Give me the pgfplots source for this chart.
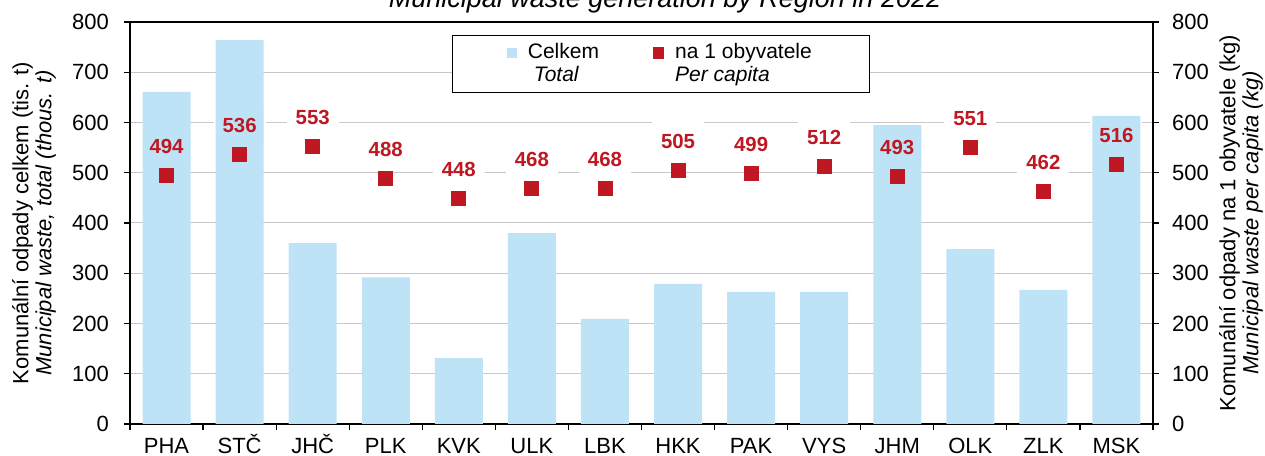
\documentclass[border=0pt]{standalone}
\usepackage{fontspec}
\setmainfont{Liberation Sans}
\usepackage{pgfplots}
\usepackage{pgfplotstable}
\pgfplotsset{compat=1.18}
\definecolor{barblue}{RGB}{190,227,246}
\definecolor{mred}{RGB}{191,24,35}
\definecolor{gridgray}{RGB}{200,200,200}
\pgfdeclareplotmark{lblbg}{\pgfpathrectangle{\pgfpoint{-13pt}{5pt}}{\pgfpoint{26pt}{19pt}}\pgfusepathqfill}

\pgfplotstableread{
x total percap
0 661 494
1 764 536
2 360 553
3 292 488
4 131 448
5 380 468
6 209 468
7 279 505
8 263 499
9 263 512
10 595 493
11 348 551
12 267 462
13 613 516
}\data

\begin{document}
\begin{tikzpicture}
\begin{axis}[name=ax, scale only axis, width=511.5pt, height=201pt,
  clip marker paths=true,
  xmin=-0.5, xmax=13.5, ymin=0, ymax=800,
  xtick={-0.5,0.5,...,13.5}, x tick label as interval,
  xticklabels={PHA,STČ,JHČ,PLK,KVK,ULK,LBK,HKK,PAK,VYS,JHM,OLK,ZLK,MSK},
  ytick={0,100,...,800}, ymajorgrids, grid style={gridgray, line width=0.5pt},
  tick align=outside, xtick pos=bottom, ytick pos=left, major tick length=3pt,
  tick style={black, line width=0.6pt},
  axis line style={line width=0.8pt},
  ticklabel style={font=\fontsize{11}{13}\selectfont},
  yticklabel style={xshift=-4pt},
  xticklabel style={anchor=base, yshift=-12pt},
  /pgf/number format/assume math mode=true,
  every axis y label/.style={at={([xshift=-48pt]axis description cs:0,0.5)}, rotate=90, anchor=center, align=center, font=\fontsize{11}{11.5}\selectfont},
  ylabel={Komunální odpady celkem (tis. t)\\\textit{Municipal waste, total (thous. t)}},
  legend columns=2,
  legend style={at={(0.315,0.968)}, anchor=north west, draw=black, line width=0.6pt,
    inner xsep=27pt, inner ysep=2pt,
    font=\fontsize{10.5}{11.5}\selectfont, cells={align=left},
    /tikz/every odd column/.append style={column sep=3.5pt},
    /tikz/every even column/.append style={column sep=25pt}},
  nodes near coords style={font=\fontsize{10.2}{12}\bfseries},
]
% white label backgrounds (under bars)
\addplot[only marks, mark=lblbg, mark options={fill=white, draw=none}, forget plot]
  table[x=x, y=percap] {\data};
% bars
\addplot[ybar, bar width=24pt, fill=barblue, draw=none,
  legend image code/.code={\fill[barblue] (0pt,3pt) rectangle (5pt,8pt);}]
  table[x=x, y=total] {\data};
\addlegendentry{Celkem\\\hspace{3pt}\textit{Total}}
% per capita markers
\addplot[only marks, mark=square*, mark size=3.5pt, mark options={fill=mred, draw=mred},
  nodes near coords, point meta=explicit symbolic,
  every node near coord/.append style={anchor=center, yshift=14.5pt, text=mred, inner sep=0pt},
  legend image code/.code={\fill[mred] (0pt,3pt) rectangle (5pt,8pt);}]
  table[x=x, y=percap, meta=percap] {\data};
\addlegendentry{na 1 obyvatele\\\textit{Per capita}}
\end{axis}
\begin{axis}[scale only axis, width=511.5pt, height=201pt,
  xmin=-0.5, xmax=13.5, ymin=0, ymax=800,
  axis x line=none, axis y line*=right, ytick={0,100,...,800},
  tick align=outside, ytick pos=right, major tick length=3pt,
  tick style={black, line width=0.6pt},
  axis line style={line width=0.8pt},
  ticklabel style={font=\fontsize{11}{13}\selectfont},
  yticklabel style={xshift=3pt},
  /pgf/number format/assume math mode=true,
  every axis y label/.style={at={([xshift=44pt]axis description cs:1,0.5)}, rotate=90, anchor=center, align=center, font=\fontsize{11}{11.5}\selectfont},
  ylabel={Komunální odpady na 1 obyvatele (kg)\\\textit{Municipal waste per capita (kg)}},
]
\end{axis}
\node[anchor=base, font=\fontsize{13.5}{15}\itshape] at ([xshift=11.75pt, yshift=7.5pt]ax.north) {Municipal waste generation by Region in 2022};
\pgfresetboundingbox
\path[use as bounding box] ([xshift=-65pt, yshift=-16pt]ax.south west) rectangle ([xshift=56pt, yshift=11pt]ax.north east);
\end{tikzpicture}
\end{document}
